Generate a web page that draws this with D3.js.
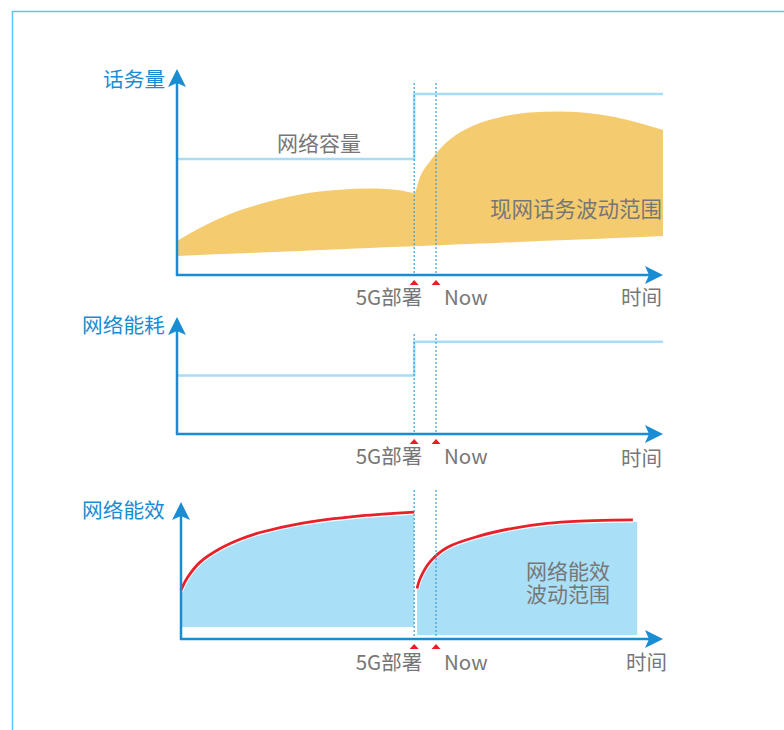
<!DOCTYPE html>
<html>
<head>
<meta charset="utf-8">
<script src="https://cdn.jsdelivr.net/npm/d3@7"></script>
<style>
  body { margin: 0; background: #fff; }
  text { font-family: "Noto Sans CJK SC", "Noto Sans", sans-serif; }
</style>
</head>
<body>
<script>
// time axis: 0..100, deploy & now markers
const markerT = [48.8, 53.3];
const markerLabels = ["5G部署", "Now"];
const timeLabel = "时间";
const axisTitles = ["话务量", "网络能耗", "网络能效"];

// panel 1 - traffic
const capacityT = [0, 48.8, 48.8, 100];
const capacityV = [56.6, 56.6, 88.3, 88.3];
const trafficLowT = [0, 100];
const trafficLowV = [9.3, 19.0];
const trafficUpT = [0, 4.7, 10.9, 17.1, 25.3, 33.5, 39.7, 45.9, 48.8, 50.0, 52.1, 54.1, 58.2, 62.3, 66.5, 72.6, 78.8, 87.0, 93.2, 100];
const trafficUpV = [16.6, 22.9, 29.8, 34.6, 39.3, 41.6, 42.2, 41.3, 40.0, 47.8, 55.6, 61.5, 69.5, 74.2, 77.0, 79.3, 79.8, 78.3, 75.4, 70.7];

// panel 2 - power
const powerT = [0, 48.8, 48.8, 100];
const powerV = [50.4, 50.4, 79.5, 79.5];

// panel 3 - efficiency (two segments)
const effLeftT = [0.8, 2.1, 4.7, 8.8, 13.0, 17.1, 25.3, 37.7, 48.8];
const effLeftV = [34.3, 43.5, 55.0, 65.0, 72.0, 77.0, 83.6, 89.2, 92.0];
const effLeftFloor = 8.8;
const effRightT = [49.4, 50.0, 52.1, 55.6, 62.3, 69.1, 76.1, 82.9, 89.7, 93.8];
const effRightV = [35.8, 43.0, 55.6, 66.0, 74.5, 80.1, 83.7, 85.4, 86.1, 86.2];
const effRightFloor = 2.9;
const effRightFillEnd = 94.7;

const width = 784;
const height = 730;
const axisColor = "#1a8cd4";
const dashColor = "#3a9fdc";
const grayText = "#777";
const lineBlue = "#a8ddf6";

const svg = d3.select("body").append("svg")
  .attr("width", width)
  .attr("height", height);

// outer frame
svg.append("path")
  .attr("d", "M12.5,730 V11.5 H784")
  .attr("fill", "none")
  .attr("stroke", "#5ac6ef")
  .attr("stroke-width", 1.5);

const x = d3.scaleLinear().domain([0, 100]).range([177, 663]);

const panels = [
  { axisX: 177, axisY: 275, top: 69, dashTop: 83, label: [103, 87], timeX: 662, textY: 305 },
  { axisX: 177, axisY: 434, top: 317, dashTop: 334, label: [82, 333], timeX: 662, textY: 464 },
  { axisX: 181, axisY: 639, top: 502, dashTop: 490, label: [82, 518], timeX: 667, textY: 670 }
];

const ys = panels.map(p => d3.scaleLinear().domain([0, 100]).range([p.axisY, p.top + 1]));

const smooth = d3.curveCatmullRom.alpha(0.5);

const line = (xs, vs, y, curve) => d3.line()
  .x(i => x(xs[i]))
  .y(i => y(vs[i]))
  .curve(curve || d3.curveLinear)(d3.range(xs.length));

// ---------- panel 1 content ----------
const lowScale = d3.scaleLinear().domain(trafficLowT).range(trafficLowV);
svg.append("path")
  .attr("d", d3.area()
    .x(i => x(trafficUpT[i]))
    .y0(i => ys[0](lowScale(trafficUpT[i])))
    .y1(i => ys[0](trafficUpV[i]))
    .curve(d3.curveMonotoneX)(d3.range(trafficUpT.length)))
  .attr("fill", "#f5cb70");

svg.append("path")
  .attr("d", line(capacityT, capacityV, ys[0]))
  .attr("fill", "none")
  .attr("stroke", lineBlue)
  .attr("stroke-width", 2.5);

svg.append("text").attr("x", 277).attr("y", 151)
  .attr("font-size", 21).attr("fill", grayText).text("网络容量");
svg.append("text").attr("x", 662).attr("y", 217).attr("text-anchor", "end")
  .attr("font-size", 21.5).attr("fill", grayText).text("现网话务波动范围");

// ---------- panel 2 content ----------
svg.append("path")
  .attr("d", line(powerT, powerV, ys[1]))
  .attr("fill", "none")
  .attr("stroke", lineBlue)
  .attr("stroke-width", 2.5);

// ---------- panel 3 content ----------
const effSegments = [
  { ts: effLeftT, vs: effLeftV, floor: effLeftFloor, end: null },
  { ts: effRightT, vs: effRightV, floor: effRightFloor, end: effRightFillEnd }
];

effSegments.forEach(s => {
  const curvePath = line(s.ts, s.vs, ys[2], smooth);
  const last = s.ts.length - 1;
  const fx1 = x(s.end || s.ts[last]);
  const fy0 = ys[2](s.floor);
  // fill: curve, then across to edge, down to floor, back to start
  const fillPath = curvePath +
    `L${fx1},${ys[2](s.vs[last])} L${fx1},${fy0} L${x(s.ts[0])},${fy0} Z`;
  svg.append("path")
    .attr("d", fillPath)
    .attr("fill", "#aadff8");
  svg.append("path")
    .attr("d", curvePath)
    .attr("transform", "translate(0,-1.5)")
    .attr("fill", "none")
    .attr("stroke", "#fff")
    .attr("stroke-width", 4.5);
  svg.append("path")
    .attr("d", curvePath)
    .attr("transform", "translate(0,-1.8)")
    .attr("fill", "none")
    .attr("stroke", "#e8202a")
    .attr("stroke-width", 2.8);
});

svg.append("text").attr("x", 526).attr("y", 579)
  .attr("font-size", 21).attr("fill", grayText).text("网络能效");
svg.append("text").attr("x", 526).attr("y", 602)
  .attr("font-size", 21).attr("fill", grayText).text("波动范围");

// ---------- axes, markers, labels ----------
panels.forEach((p, k) => {
  const g = svg.append("g");

  markerT.forEach(t => {
    g.append("line")
      .attr("x1", x(t)).attr("x2", x(t))
      .attr("y1", p.dashTop).attr("y2", p.axisY)
      .attr("stroke", dashColor)
      .attr("stroke-width", 1.2)
      .attr("stroke-dasharray", "2,2");
    const mx = x(t);
    const my = p.axisY + 5;
    g.append("path")
      .attr("d", `M${mx},${my} L${mx + 4.5},${my + 5} L${mx - 4.5},${my + 5} Z`)
      .attr("fill", "#ec1c24");
  });

  // y axis
  g.append("line")
    .attr("x1", p.axisX).attr("x2", p.axisX)
    .attr("y1", p.axisY + 1).attr("y2", p.top + 10)
    .attr("stroke", axisColor).attr("stroke-width", 2.5);
  g.append("path")
    .attr("d", `M${p.axisX},${p.top} L${p.axisX + 9},${p.top + 18} L${p.axisX},${p.top + 14} L${p.axisX - 9},${p.top + 18} Z`)
    .attr("fill", axisColor);

  // x axis
  const tip = 663;
  g.append("line")
    .attr("x1", p.axisX - 1).attr("x2", tip - 10)
    .attr("y1", p.axisY).attr("y2", p.axisY)
    .attr("stroke", axisColor).attr("stroke-width", 2.5);
  g.append("path")
    .attr("d", `M${tip},${p.axisY} L${tip - 18},${p.axisY - 9} L${tip - 14},${p.axisY} L${tip - 18},${p.axisY + 9} Z`)
    .attr("fill", axisColor);

  g.append("text")
    .attr("x", p.label[0]).attr("y", p.label[1])
    .attr("font-size", 20.7).attr("fill", "#1a8cd4")
    .text(axisTitles[k]);

  g.append("text")
    .attr("x", x(markerT[0]) + 8).attr("y", p.textY)
    .attr("text-anchor", "end")
    .attr("font-size", 20.5).attr("fill", grayText)
    .text(markerLabels[0]);
  g.append("text")
    .attr("x", x(markerT[1]) + 8).attr("y", p.textY)
    .attr("font-size", 20.5).attr("fill", grayText)
    .text(markerLabels[1]);
  g.append("text")
    .attr("x", p.timeX).attr("y", p.textY + (k === 1 ? 2 : 0))
    .attr("text-anchor", "end")
    .attr("font-size", 20.5).attr("fill", grayText)
    .text(timeLabel);
});
</script>
</body>
</html>
